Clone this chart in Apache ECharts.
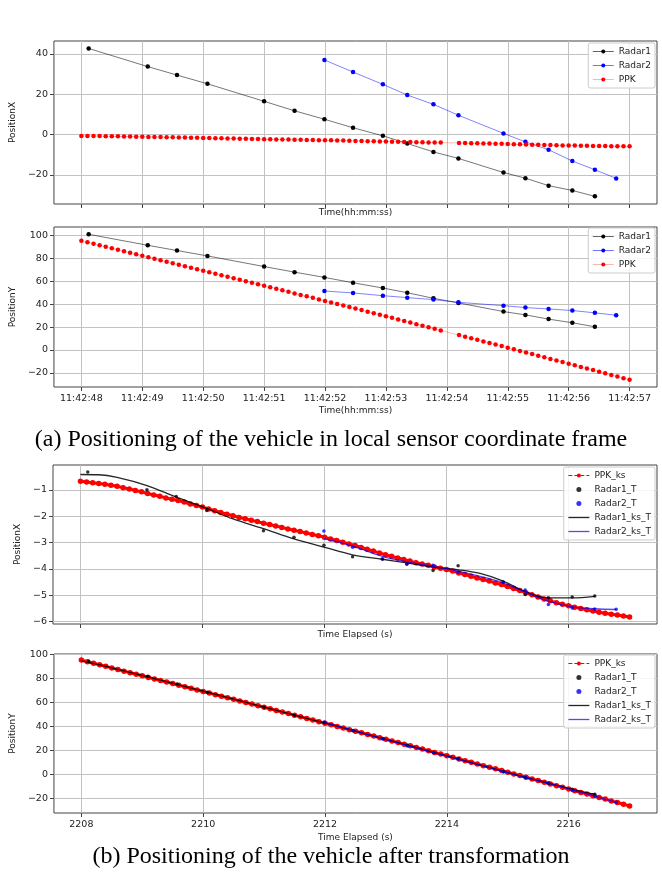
<!DOCTYPE html>
<html><head><meta charset="utf-8">
<script src="https://cdn.jsdelivr.net/npm/echarts@6/dist/echarts.min.js"></script>
<style>html,body{margin:0;padding:0;background:#fff}#c{width:662px;height:884px}</style>
</head><body><div id="c"></div>
<script>
// ---------- tick labels ----------
const clockTicks = [0,1,2,3,4,5,6,7,8,9];
const clockLabels = ['11:42:48','11:42:49','11:42:50','11:42:51','11:42:52','11:42:53','11:42:54','11:42:55','11:42:56','11:42:57'];
const elapsedStart = 2208;
const elapsedTicks = [2208,2210,2212,2214,2216];
const yTicksPosX = [-20,0,20,40];
const yTicksPosY = [-20,0,20,40,60,80,100];
const yTicksPosXT = [-6,-5,-4,-3,-2,-1];
const yTicksPosYT = [-20,0,20,40,60,80,100];

// ---------- PPK (sampled every 0.1 s from 11:42:48 / 2208 s) ----------
const ppkStep = 0.1;
const ppkX = [-0.67,-0.70,-0.72,-0.75,-0.78,-0.82,-0.86,-0.91,-0.96,-1.02,
 -1.07,-1.13,-1.19,-1.24,-1.30,-1.35,-1.40,-1.46,-1.53,-1.59,
 -1.65,-1.72,-1.79,-1.85,-1.92,-1.98,-2.04,-2.09,-2.15,-2.20,
 -2.26,-2.31,-2.37,-2.42,-2.48,-2.53,-2.58,-2.63,-2.69,-2.74,
 -2.79,-2.86,-2.92,-2.98,-3.05,-3.11,-3.18,-3.25,-3.32,-3.39,
 -3.46,-3.52,-3.58,-3.64,-3.70,-3.76,-3.81,-3.86,-3.92,-3.97,
 -4.02,-4.08,-4.15,-4.21,-4.28,-4.34,-4.40,-4.46,-4.53,-4.59,
 -4.67,-4.74,-4.82,-4.90,-4.98,-5.06,-5.14,-5.21,-5.28,-5.34,
 -5.40,-5.45,-5.50,-5.55,-5.60,-5.64,-5.68,-5.72,-5.75,-5.79,
 -5.82];
const ppkY = [95.5,94.2,92.9,91.6,90.3,89.0,87.6,86.3,85.0,83.7,
 82.4,81.1,79.8,78.5,77.2,75.9,74.6,73.3,72.0,70.6,
 69.3,68.0,66.7,65.4,64.1,62.8,61.4,60.1,58.8,57.5,
 56.2,54.9,53.5,52.2,50.9,49.5,48.2,46.9,45.6,44.2,
 42.9,41.6,40.2,38.9,37.5,36.2,34.9,33.5,32.2,30.8,
 29.5,28.1,26.7,25.4,24.0,22.6,21.3,19.9,18.5,17.1,
 15.8,14.4,13.0,11.6,10.3,8.9,7.5,6.1,4.8,3.4,
 2.0,0.6,-0.8,-2.2,-3.6,-5.0,-6.4,-7.8,-9.2,-10.6,
 -12.0,-13.4,-14.8,-16.2,-17.6,-19.0,-20.4,-21.9,-23.3,-24.7,
 -26.1];
const ppkRawMissing = [60, 61]; // samples absent from raw PPK log

// ---------- Radar detections (seconds after 11:42:48) ----------
const radar1Time = [0.12,1.09,1.57,2.07,3.0,3.5,3.99,4.46,4.95,5.35,5.78,6.19,6.93,7.29,7.67,8.06,8.43];
const radar1X = [42.7,33.7,29.5,25.2,16.5,11.8,7.6,3.4,-0.6,-4.4,-8.6,-11.8,-18.8,-21.6,-25.3,-27.7,-30.6];
const radar1Y = [101.2,91.6,87.0,82.3,73.0,68.1,63.5,58.8,54.2,50.1,45.2,41.2,33.6,30.7,27.0,23.8,20.3];
const radar2Time = [3.99,4.46,4.95,5.35,5.78,6.19,6.93,7.29,7.67,8.06,8.43,8.78];
const radar2X = [37.0,31.0,24.9,19.6,15.0,9.6,0.6,-3.6,-7.5,-13.1,-17.4,-21.7];
const radar2Y = [51.6,49.9,47.5,45.8,44.1,41.7,38.8,37.1,35.9,34.5,32.5,30.4];

// ---------- transformed radar points ----------
const radar1TX = [-0.32,-0.99,-1.25,-1.78,-2.55,-2.79,-3.10,-3.54,-3.63,-3.82,-4.06,-3.88,-4.50,-4.97,-5.09,-5.06,-5.03];
const radar1TY = [94.6,82.0,75.6,68.6,56.1,49.3,43.2,36.6,30.0,24.5,18.4,13.4,2.6,-2.4,-7.2,-12.2,-16.3];
const radar2TX = [-2.56,-3.17,-3.61,-3.80,-3.86,-4.12,-4.49,-4.80,-5.35,-5.48,-5.52,-5.53];
const radar2TY = [43.9,36.7,29.7,23.9,18.3,13.1,2.2,-2.2,-6.7,-13.3,-17.8,-23.1];

// ---------- smoothed transformed tracks ----------
const radar1KsTime = [0,0.3,0.6,1.09,1.57,2.07,2.5,3.0,3.5,3.99,4.46,4.95,5.35,5.78,6.19,6.55,6.93,7.29,7.67,8.06,8.43];
const radar1KsX = [-0.41,-0.42,-0.52,-0.83,-1.27,-1.70,-2.10,-2.47,-2.86,-3.17,-3.46,-3.63,-3.77,-3.93,-4.03,-4.17,-4.46,-4.86,-5.10,-5.10,-5.04];
const radar1KsY = [94.8,91.5,87.7,81.5,75.3,68.7,62.9,56.3,49.6,43.1,36.8,30.1,24.6,18.6,13.0,8.0,2.8,-2.2,-7.3,-12.3,-16.4];
const radar2KsTime = [3.99,4.46,4.95,5.35,5.78,6.19,6.55,6.93,7.29,7.67,8.06,8.43,8.78];
const radar2KsX = [-2.85,-3.13,-3.52,-3.73,-3.90,-4.08,-4.28,-4.53,-4.88,-5.22,-5.44,-5.51,-5.54];
const radar2KsY = [43.6,36.9,29.9,24.3,18.4,12.9,8.0,2.5,-2.4,-7.0,-12.9,-18.0,-23.1];

// ---------- build ----------
const FONT = 'DejaVu Sans';
const ppkTime = ppkX.map((v, i) => +(i * ppkStep).toFixed(2));
const zip = (ts, vs, off) => ts.map((t, i) => [+(off + t).toFixed(3), vs[i]]);
const rawIdx = ppkTime.map((t, i) => i).filter(i => ppkRawMissing.indexOf(i) < 0);
const ppkRawX = rawIdx.map(i => [ppkTime[i], ppkX[i]]);
const ppkRawY = rawIdx.map(i => [ppkTime[i], ppkY[i]]);
const minus = v => (v < 0 ? '\u2212' + Math.abs(v) : String(v));

const grids = [
  {left: 53, right: 5, top: 41, height: 163},
  {left: 53, right: 5, top: 227, height: 160},
  {left: 53, right: 5, top: 465, height: 159},
  {left: 53, right: 5, top: 654, height: 159}
].map(g => Object.assign(g, {show: true, borderColor: '#444', borderWidth: 1, containLabel: false}));

const gridLine = {show: true, lineStyle: {color: '#c2c2c2', width: 1}};
const tickStyle = {lineStyle: {color: '#444', width: 1}};

function xAx(gi, isClock, showLabels, name, nameGap) {
  const ticks = isClock ? clockTicks : elapsedTicks;
  const off = isClock ? 0 : elapsedStart;
  return {
    gridIndex: gi, type: 'value', min: off - 0.45, max: off + 9.45,
    axisLine: {show: false, onZero: false},
    axisTick: Object.assign({show: true, inside: false, length: 4, customValues: ticks}, tickStyle),
    axisLabel: {show: showLabels, customValues: ticks, margin: 7, fontSize: 9.5, color: '#222', fontFamily: FONT,
      formatter: v => isClock ? clockLabels[clockTicks.indexOf(Math.round(v))] : String(Math.round(v))},
    splitLine: gridLine,
    name: name, nameLocation: 'middle', nameGap: nameGap,
    nameTextStyle: {fontSize: 9, color: '#222', fontFamily: FONT}
  };
}
function yAx(gi, min, max, ticks, name, nameGap) {
  return {
    gridIndex: gi, type: 'value', min: min, max: max,
    axisLine: {show: false, onZero: false},
    axisTick: Object.assign({show: true, inside: false, length: 4, customValues: ticks}, tickStyle),
    axisLabel: {show: true, customValues: ticks, margin: 6, fontSize: 9.5, color: '#222', fontFamily: FONT, formatter: minus},
    splitLine: gridLine,
    name: name, nameLocation: 'middle', nameGap: nameGap,
    nameTextStyle: {fontSize: 9, color: '#222', fontFamily: FONT}
  };
}

const xAxis = [
  xAx(0, true, false, 'Time(hh:mm:ss)', 4),
  xAx(1, true, true, 'Time(hh:mm:ss)', 19),
  xAx(2, false, false, 'Time Elapsed (s)', 6),
  xAx(3, false, true, 'Time Elapsed (s)', 20)
];
const yAxis = [
  yAx(0, -34.4, 46.4, yTicksPosX, 'PositionX', 23),
  yAx(1, -32.4, 107.6, yTicksPosY, 'PositionY', 24),
  yAx(2, -6.09, -0.05, yTicksPosXT, 'PositionX', 19),
  yAx(3, -32.0, 100.6, yTicksPosYT, 'PositionY', 24)
];

function markerLine(name, gi, data, color, lineOpacity, size, z) {
  return {
    name: name, type: 'line', xAxisIndex: gi, yAxisIndex: gi, data: data, z: z,
    symbol: 'circle', symbolSize: size, showSymbol: true,
    itemStyle: {color: color}, lineStyle: {color: color, width: 0.9, opacity: lineOpacity},
    animation: false, silent: true
  };
}
function dots(name, gi, data, color) {
  return {name: name, type: 'scatter', xAxisIndex: gi, yAxisIndex: gi, data: data, z: 4,
    symbol: 'circle', symbolSize: 3.5, itemStyle: {color: color}, animation: false, silent: true};
}
function track(name, gi, data, color, opacity, z) {
  return {name: name, type: 'line', xAxisIndex: gi, yAxisIndex: gi, data: data, smooth: 0.35, z: z,
    symbol: 'none', showSymbol: false, itemStyle: {color: color},
    lineStyle: {color: color, width: 1.3, opacity: opacity}, animation: false, silent: true};
}
function ppkKs(gi, vals) {
  return {name: 'PPK_ks', type: 'line', xAxisIndex: gi, yAxisIndex: gi, z: 2,
    data: zip(ppkTime, vals, elapsedStart), symbol: 'circle', symbolSize: 5.5, showSymbol: true,
    itemStyle: {color: '#ff0000'}, lineStyle: {color: '#ff0000', width: 3},
    animation: false, silent: true};
}

const series = [
  markerLine('Radar1', 0, zip(radar1Time, radar1X, 0), '#000000', 0.6, 4.5, 3),
  markerLine('Radar2', 0, zip(radar2Time, radar2X, 0), '#0000ff', 0.55, 4.5, 4),
  markerLine('PPK', 0, ppkRawX, '#ff0000', 0.3, 4.5, 5),
  markerLine('Radar1', 1, zip(radar1Time, radar1Y, 0), '#000000', 0.6, 4.5, 3),
  markerLine('Radar2', 1, zip(radar2Time, radar2Y, 0), '#0000ff', 0.55, 4.5, 4),
  markerLine('PPK', 1, ppkRawY, '#ff0000', 0.3, 4.5, 5),
  ppkKs(2, ppkX),
  dots('Radar1_T', 2, zip(radar1Time, radar1TX, elapsedStart), '#000000'),
  dots('Radar2_T', 2, zip(radar2Time, radar2TX, elapsedStart), '#0000ff'),
  track('Radar1_ks_T', 2, zip(radar1KsTime, radar1KsX, elapsedStart), '#000000', 0.85, 5),
  track('Radar2_ks_T', 2, zip(radar2KsTime, radar2KsX, elapsedStart), '#0000ff', 0.7, 6),
  ppkKs(3, ppkY),
  dots('Radar1_T', 3, zip(radar1Time, radar1TY, elapsedStart), '#000000'),
  dots('Radar2_T', 3, zip(radar2Time, radar2TY, elapsedStart), '#0000ff'),
  track('Radar1_ks_T', 3, zip(radar1KsTime, radar1KsY, elapsedStart), '#000000', 0.85, 5),
  track('Radar2_ks_T', 3, zip(radar2KsTime, radar2KsY, elapsedStart), '#0000ff', 0.7, 6)
];

const legendRaw = [
  {name: 'Radar1', lineStyle: {width: 1, opacity: 0.6}},
  {name: 'Radar2', lineStyle: {width: 1, opacity: 0.55}},
  {name: 'PPK', lineStyle: {width: 1, opacity: 0.3}}
];
const legendKs = [
  {name: 'PPK_ks', lineStyle: {width: 1, type: 'dashed'}},
  {name: 'Radar1_T'},
  {name: 'Radar2_T'},
  {name: 'Radar1_ks_T', lineStyle: {width: 1.3}, itemStyle: {opacity: 0}},
  {name: 'Radar2_ks_T', lineStyle: {width: 1.3}, itemStyle: {opacity: 0}}
];
function legend(top, data) {
  return {
    data: data, orient: 'vertical', right: 7, top: top, z: 10,
    itemWidth: 21, itemHeight: 5, itemGap: 5, itemTextGap: 5,
    padding: [4, 4, 4, 4], backgroundColor: 'rgba(255,255,255,0.85)',
    borderColor: '#cccccc', borderWidth: 1, borderRadius: 2,
    selectedMode: false, lineStyle: {width: 1},
    textStyle: {fontSize: 9, color: '#222', fontFamily: FONT}
  };
}

const option = {
  backgroundColor: '#ffffff',
  animation: false,
  title: [
    {text: '(a) Positioning of the vehicle in local sensor coordinate frame', left: 'center', top: 428, padding: 0,
      textStyle: {fontFamily: 'Liberation Serif', fontSize: 24, fontWeight: 'normal', color: '#000'}},
    {text: '(b) Positioning of the vehicle after transformation', left: 'center', top: 845, padding: 0,
      textStyle: {fontFamily: 'Liberation Serif', fontSize: 24, fontWeight: 'normal', color: '#000'}}
  ],
  grid: grids,
  xAxis: xAxis,
  yAxis: yAxis,
  legend: [
    legend(43, legendRaw),
    legend(228, legendRaw),
    legend(467, legendKs),
    legend(655, legendKs)
  ],
  series: series
};
const chart = echarts.init(document.getElementById('c'), null, {renderer: 'canvas'});
chart.setOption(option);
</script></body></html>
